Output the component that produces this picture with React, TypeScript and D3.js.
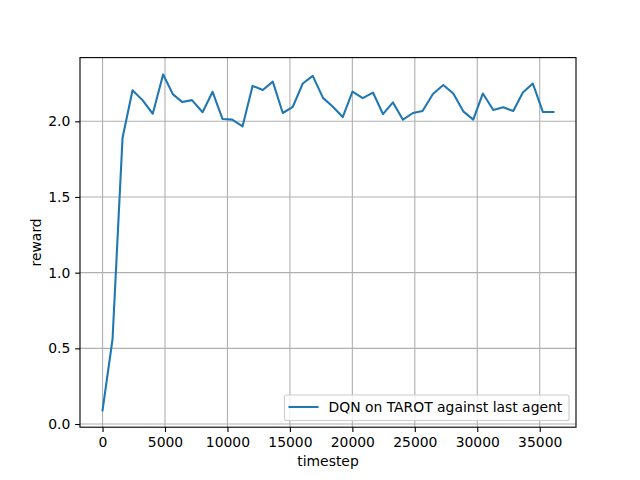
import { useRef, useEffect } from "react";
import * as d3 from "d3";

const timesteps = [
  0, 800, 1600, 2400, 3200, 4020, 4850, 5620, 6390, 7160, 8010, 8810, 9610, 10380, 11210, 12010,
  12830, 13630, 14430, 15230, 16030, 16830, 17650, 18400, 19230, 20010, 20830, 21650, 22450, 23250,
  24050, 24850, 25620, 26450, 27280, 28080, 28880, 29680, 30450, 31280, 32080, 32880, 33650, 34450,
  35250, 36100,
];
const rewards = [
  0.09, 0.56, 1.89, 2.205, 2.14, 2.05, 2.31, 2.18, 2.127, 2.14, 2.06, 2.195, 2.015, 2.011, 1.967, 2.234,
  2.207, 2.262, 2.055, 2.096, 2.25, 2.3, 2.155, 2.1, 2.028, 2.197, 2.153, 2.19, 2.048, 2.125,
  2.011, 2.055, 2.068, 2.18, 2.24, 2.184, 2.066, 2.011, 2.184, 2.075, 2.093, 2.068, 2.19, 2.25,
  2.062, 2.062,
];
const xTicks = [0, 5000, 10000, 15000, 20000, 25000, 30000, 35000];
const yTicks = [0, 0.5, 1.0, 1.5, 2.0];
const seriesLabel = "DQN on TAROT against last agent";

export default function App() {
  const svgRef = useRef<SVGSVGElement>(null);

  useEffect(() => {
    if (!svgRef.current) return;
    const svg = d3.select(svgRef.current);
    svg.selectAll("*").remove();

    const W = 640, H = 480;
    const left = 80, right = 576, top = 57.6, bottom = 427.2;
    const font = "DejaVu Sans";
    const fs = 13.9;
    const pt = 100 / 72; // matplotlib points -> px

    const [x0, x1] = d3.extent(timesteps) as [number, number];
    const [y0, y1] = d3.extent(rewards) as [number, number];
    const xp = (x1 - x0) * 0.05, yp = (y1 - y0) * 0.05;
    const x = d3.scaleLinear().domain([x0 - xp, x1 + xp]).range([left, right]);
    const y = d3.scaleLinear().domain([y0 - yp, y1 + yp]).range([bottom, top]);

    svg.append("rect").attr("width", W).attr("height", H).attr("fill", "#fff");

    // grid
    const grid = svg.append("g").attr("stroke", "#b0b0b0").attr("stroke-width", 0.8 * pt);
    xTicks.forEach(t => grid.append("line").attr("x1", x(t)).attr("x2", x(t)).attr("y1", top).attr("y2", bottom));
    yTicks.forEach(t => grid.append("line").attr("x1", left).attr("x2", right).attr("y1", y(t)).attr("y2", y(t)));

    // line
    const line = d3.line<number>().x((_, i) => x(timesteps[i])).y(d => y(d));
    svg.append("path").datum(rewards).attr("d", line).attr("fill", "none")
      .attr("stroke", "#1f77b4").attr("stroke-width", 1.5 * pt).attr("stroke-linejoin", "round").attr("stroke-linecap", "square");

    // axes
    const xAxis = svg.append("g").attr("transform", `translate(0,${bottom})`)
      .call(d3.axisBottom(x).tickValues(xTicks).tickSize(3.5 * pt).tickPadding(3.5 * pt).tickFormat(d => String(d)));
    const yAxis = svg.append("g").attr("transform", `translate(${left},0)`)
      .call(d3.axisLeft(y).tickValues(yTicks).tickSize(3.5 * pt).tickPadding(3.5 * pt).tickFormat(d => (d as number).toFixed(1)));
    [xAxis, yAxis].forEach(a => {
      a.select(".domain").remove();
      a.selectAll("line").attr("stroke", "#000").attr("stroke-width", 0.8 * pt);
      a.selectAll("text").attr("fill", "#000").attr("font-size", fs).attr("font-family", font);
    });

    svg.append("rect").attr("x", left).attr("y", top).attr("width", right - left).attr("height", bottom - top)
      .attr("fill", "none").attr("stroke", "#000").attr("stroke-width", 0.8 * pt);

    svg.append("text").attr("x", (left + right) / 2).attr("y", 465.5).attr("text-anchor", "middle")
      .attr("font-size", fs).attr("font-family", font).text("timestep");
    svg.append("text").attr("transform", `translate(40.5,${(top + bottom) / 2}) rotate(-90)`).attr("text-anchor", "middle")
      .attr("font-size", fs).attr("font-family", font).text("reward");

    // legend
    const lg = svg.append("g");
    lg.append("rect").attr("x", 284.5).attr("y", 395).attr("width", 284.5).attr("height", 25.5).attr("rx", 2)
      .attr("fill", "#fff").attr("fill-opacity", 0.8).attr("stroke", "#cccccc").attr("stroke-width", 0.8 * pt);
    lg.append("line").attr("x1", 288.5).attr("x2", 318.5).attr("y1", 407).attr("y2", 407)
      .attr("stroke", "#1f77b4").attr("stroke-width", 1.5 * pt);
    lg.append("text").attr("x", 328.5).attr("y", 412.3).attr("font-size", fs).attr("font-family", font).text(seriesLabel);
  }, []);

  return (
    <svg ref={svgRef} width={640} height={480} style={{ position: "absolute", left: 0, top: 0 }} />
  );
}
